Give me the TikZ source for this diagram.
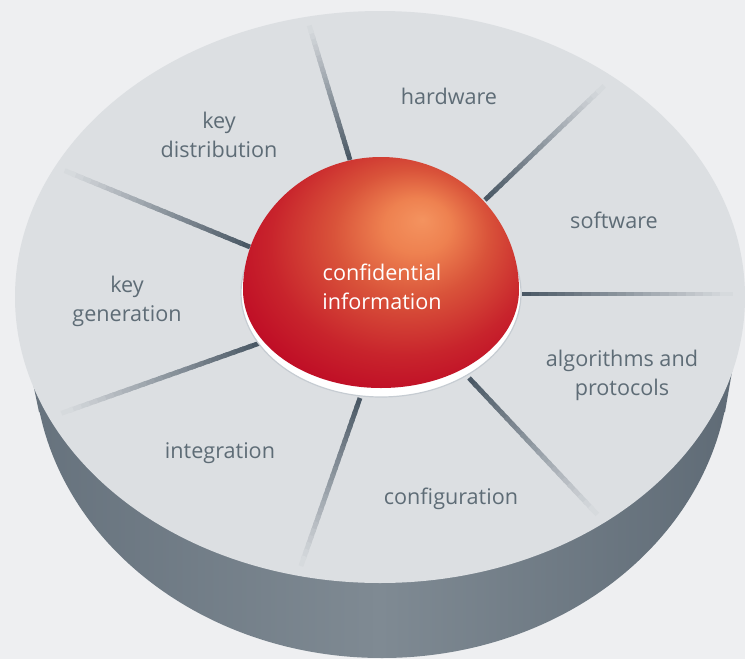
\documentclass[tikz,border=0pt]{standalone}
\usepackage{fontspec}
\setmainfont{Open Sans}
\usetikzlibrary{calc}

\definecolor{bgcol}{HTML}{EEEFF1}
\definecolor{surface}{HTML}{DCDFE2}
\definecolor{sidedark}{HTML}{65717C}
\definecolor{sidelight}{HTML}{7F8A93}
\definecolor{sideright}{HTML}{5E6A75}
\definecolor{spokedark}{HTML}{4A5865}
\definecolor{labelgray}{HTML}{5E6C76}
\definecolor{rimgray}{HTML}{C6CCD2}
\definecolor{domehi}{HTML}{F4935F}
\definecolor{domeorange}{HTML}{EE8150}
\definecolor{domeredorange}{HTML}{D9533A}
\definecolor{domered}{HTML}{C8242C}
\definecolor{domecrimson}{HTML}{BE0A25}
\definecolor{domedark}{HTML}{8A1020}

\pgfdeclareradialshading{domeball}{\pgfpoint{7.5bp}{11.5bp}}{%
color(0bp)=(domehi); color(6bp)=(domeorange); color(14bp)=(domeredorange);
color(24bp)=(domered); color(32bp)=(domecrimson); color(42bp)=(domedark);
color(50bp)=(domedark)}

\begin{document}
\begin{tikzpicture}[x=0.5pt,y=-0.5pt,
  lbl/.style={text=labelgray,align=center,font=\fontsize{10.8}{14.5}\selectfont},
  spoke/.style={line width=2.4pt,line cap=butt}]
\fill[bgcol] (0,0) rectangle (745,659);
\useasboundingbox (0,0) rectangle (745,659);

% disc: side and top
\shade[left color=sidedark,right color=sideright,middle color=sidelight]
  (382,358) ellipse[x radius=348,y radius=300]
  (745,297) -- (725,412) -- (39,412) -- (15,297) -- cycle;
\fill[surface] (380,297) ellipse[x radius=365,y radius=286];

% spokes
\coordinate (s1a) at (350,160); \coordinate (s1b) at (310,28);
\coordinate (s2a) at (485,200); \coordinate (s2b) at (602,88);
\coordinate (s3a) at (522,294); \coordinate (s3b) at (729,294);
\coordinate (s4a) at (469,378); \coordinate (s4b) at (595,512);
\coordinate (s5a) at (360,398); \coordinate (s5b) at (302,563);
\coordinate (s6a) at (260,343); \coordinate (s6b) at (65,412);
\coordinate (s7a) at (250,247); \coordinate (s7b) at (68,172);
\foreach \a/\b in {s1a/s1b,s2a/s2b,s3a/s3b,s4a/s4b,s5a/s5b,s6a/s6b,s7a/s7b}{
  \foreach \k in {0,...,23}{
    \pgfmathtruncatemacro\pct{100-\k*100/24}
    \draw[spoke,draw=spokedark!\pct!surface] ($(\a)!\k/24!(\b)$) -- ($(\a)!\k/24+0.06!(\b)$);
  }
}

% dome
\fill[white,draw=rimgray,line width=0.6pt] (381,293) ellipse[x radius=140,y radius=104];
\shade[shading=domeball] (243,290) arc[start angle=180,end angle=360,x radius=138,y radius=133]
  arc[start angle=0,end angle=180,x radius=138,y radius=98] -- cycle;
\node[lbl,text=white] (ci) at (382,287) {confidential\\information};

\node[lbl] (hw) at (449,96) {hardware};
\node[lbl] (sw) at (614,220) {software};
\node[lbl] (alg) at (622,375) {algorithms and\\protocols};
\node[lbl] (conf) at (451,499) {configuration};
\node[lbl] (integ) at (220,453) {integration};
\node[lbl] (kgen) at (127,301) {key\\generation};
\node[lbl] (kdist) at (219,135) {key\\distribution};
\end{tikzpicture}
\end{document}
